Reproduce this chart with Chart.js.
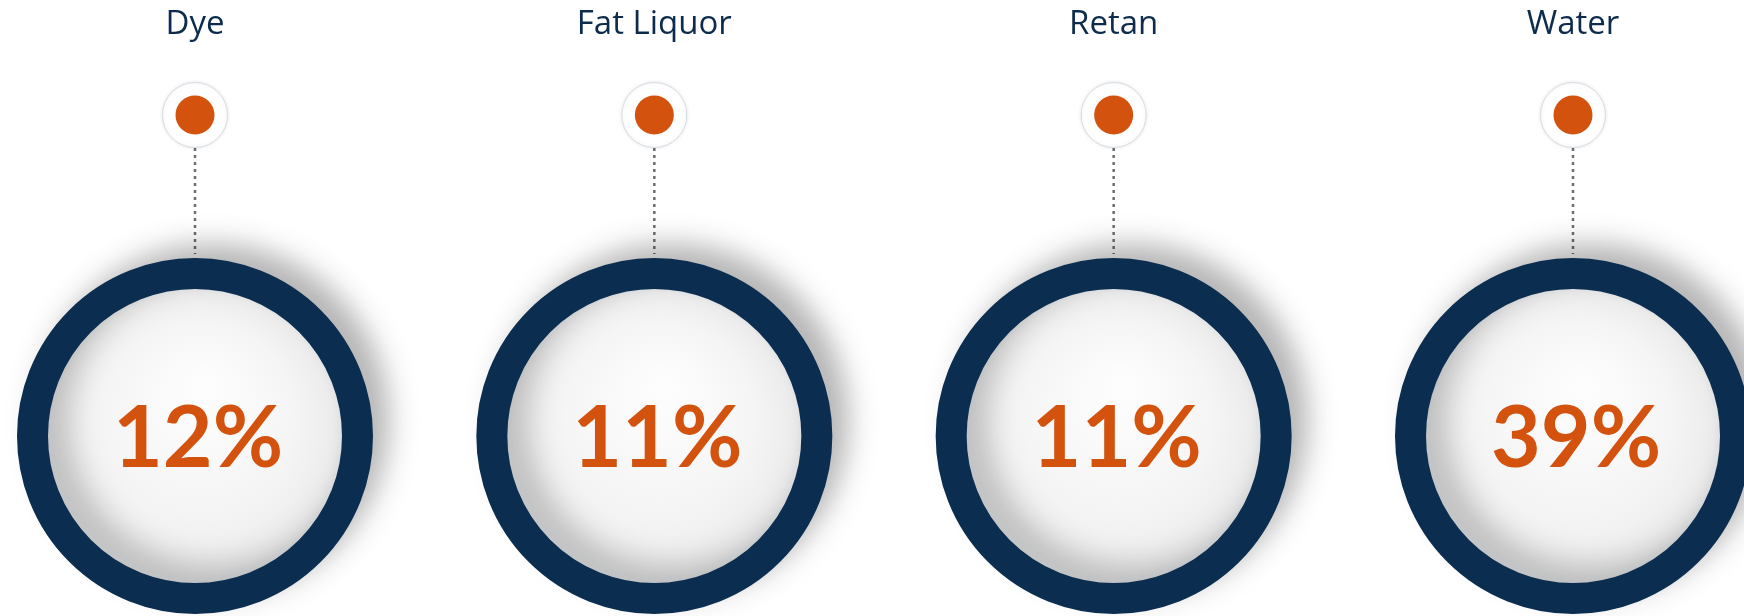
<!DOCTYPE html>
<html>
<head>
<meta charset="utf-8">
<script src="https://cdn.jsdelivr.net/npm/chart.js@4"></script>
<style>
  html, body { margin: 0; padding: 0; background: #ffffff; }
  #wrap { width: 1744px; height: 616px; }
</style>
</head>
<body>
<div id="wrap"><canvas id="chart" width="1744" height="616"></canvas></div>
<script>
const categories = ['Dye', 'Fat Liquor', 'Retan', 'Water'];
const shares = [12, 11, 11, 39]; // percent

const NAVY = '#0b2d4f';
const ORANGE = '#d2520e';
const ROW_RING = 0;  // bottom row: the big rings
const ROW_DOT = 1;   // top row: the small markers

// titles, dotted connectors, percent labels, ring shadow
const decorPlugin = {
  id: 'decor',
  beforeDatasetDraw(chart, args) {
    const ctx = chart.ctx;
    if (args.index === 0) {
      ctx.save();
      ctx.shadowColor = 'rgba(0, 0, 0, 0.22)';
      ctx.shadowBlur = 30;
      ctx.shadowOffsetX = 18;
      ctx.shadowOffsetY = -16;
    }
    if (args.index === 1) {
      ctx.save();
      ctx.shadowColor = 'rgba(0, 0, 0, 0.10)';
      ctx.shadowBlur = 4;
    }
  },
  afterDatasetDraw(chart, args) {
    if (args.index === 0 || args.index === 1) chart.ctx.restore();
  },
  beforeDatasetsDraw(chart) {
    const ctx = chart.ctx;
    const x = chart.scales.x, y = chart.scales.y;
    const yDot = y.getPixelForValue(ROW_DOT);
    const yRing = y.getPixelForValue(ROW_RING);
    ctx.save();
    ctx.strokeStyle = '#6b6f75';
    ctx.lineWidth = 2.5;
    ctx.setLineDash([3, 4]);
    categories.forEach((c, i) => {
      const px = x.getPixelForValue(i);
      ctx.beginPath();
      ctx.moveTo(px, yDot + 33);
      ctx.lineTo(px, yRing - 182);
      ctx.stroke();
    });
    ctx.restore();
  },
  afterDatasetsDraw(chart) {
    const ctx = chart.ctx;
    const x = chart.scales.x, y = chart.scales.y;
    const yRing = y.getPixelForValue(ROW_RING);
    ctx.save();
    ctx.textAlign = 'center';
    ctx.textBaseline = 'alphabetic';
    categories.forEach((c, i) => {
      const px = x.getPixelForValue(i);
      ctx.fillStyle = '#0d2b4c';
      ctx.font = '33px "Open Sans", sans-serif';
      ctx.fillText(c, px, 34);
      ctx.fillStyle = ORANGE;
      ctx.font = 'bold 86px Lato, sans-serif';
      ctx.fillText(shares[i] + '%', px + 3, yRing + 31);
    });
    ctx.restore();
  }
};

function ringFill(c) {
  const ch = c.chart;
  if (!ch.chartArea || c.dataIndex == null) return '#f4f4f4';
  const px = ch.scales.x.getPixelForValue(c.dataIndex);
  const py = ch.scales.y.getPixelForValue(ROW_RING);
  const g = ch.ctx.createRadialGradient(px + 10, py - 50, 10, px, py, 150);
  g.addColorStop(0, '#fdfdfd');
  g.addColorStop(0.6, '#f5f5f5');
  g.addColorStop(0.92, '#ececec');
  g.addColorStop(1, '#e2e4e6');
  return g;
}

new Chart(document.getElementById('chart'), {
  type: 'line',
  data: {
    labels: categories,
    datasets: [
      {
        data: shares.map(() => ROW_RING),
        order: 3,
        showLine: false,
        pointRadius: 162.5,
        pointBorderWidth: 31,
        pointBorderColor: NAVY,
        pointBackgroundColor: ringFill,
        clip: false
      },
      {
        data: shares.map(() => ROW_DOT),
        order: 2,
        showLine: false,
        pointRadius: 32.5,
        pointBorderWidth: 1,
        pointBorderColor: '#d6dde4',
        pointBackgroundColor: '#ffffff',
        clip: false
      },
      {
        data: shares.map(() => ROW_DOT),
        order: 1,
        showLine: false,
        pointRadius: 19.5,
        pointBorderWidth: 0,
        pointBackgroundColor: ORANGE,
        clip: false
      }
    ]
  },
  options: {
    responsive: false,
    animation: false,
    events: [],
    layout: { autoPadding: false, padding: { left: 195, right: 171, top: 115, bottom: 180 } },
    scales: {
      x: { type: 'category', offset: false, display: false },
      y: { type: 'linear', min: ROW_RING, max: ROW_DOT, display: false }
    },
    plugins: { legend: { display: false }, tooltip: { enabled: false } }
  },
  plugins: [decorPlugin]
});
</script>
</body>
</html>
